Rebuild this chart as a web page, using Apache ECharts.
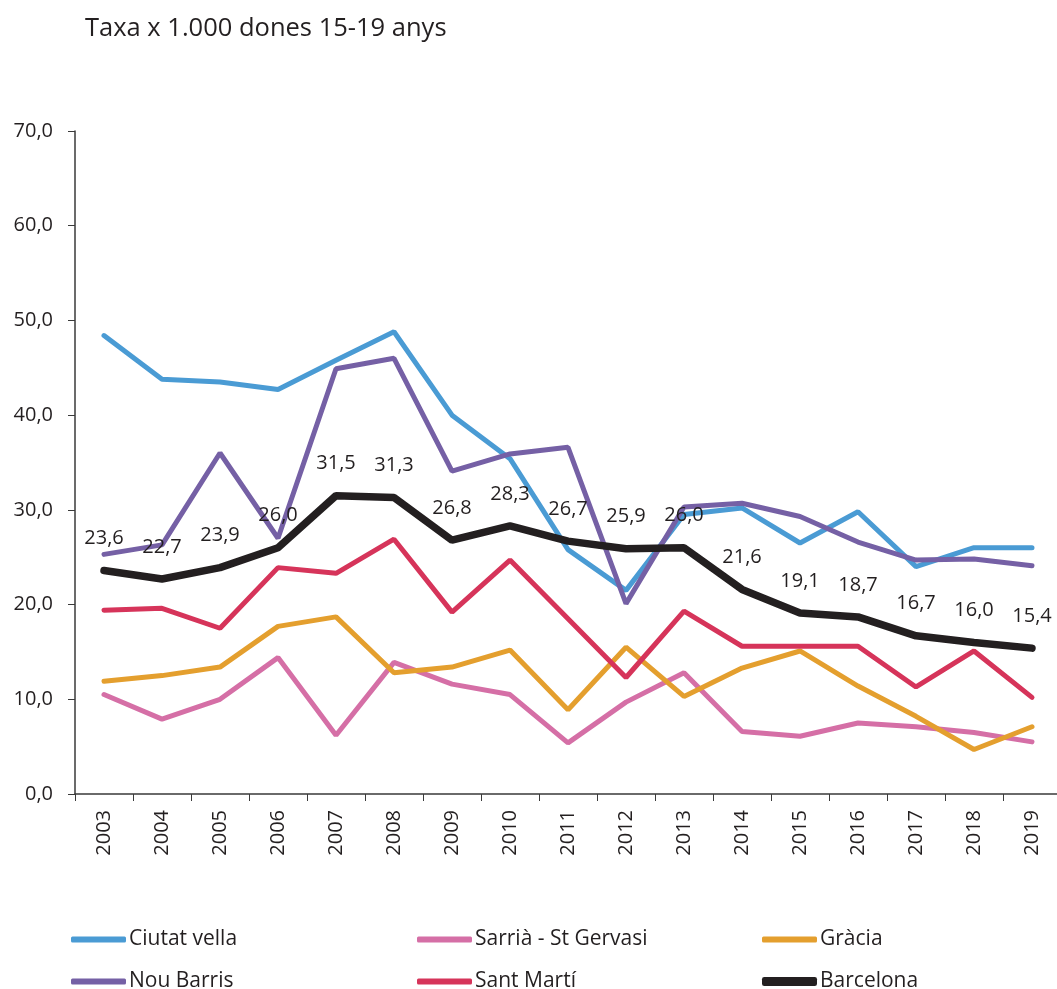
<!DOCTYPE html>
<html>
<head>
    <meta charset="utf-8">
    <title>Taxa x 1.000 dones 15-19 anys</title>
    <script src="https://cdn.jsdelivr.net/npm/echarts@6/dist/echarts.min.js"></script>
    <style>
        html, body { margin: 0; padding: 0; background: #fff; }
    </style>
</head>
<body>
    <div id="main" style="width: 1057px;height:989px;"></div>
    <script type="text/javascript">
        var years = ['2003', '2004', '2005', '2006', '2007', '2008', '2009', '2010', '2011',
            '2012', '2013', '2014', '2015', '2016', '2017', '2018', '2019'];
        var ciutatVella = [48.4, 43.8, 43.5, 42.7, 45.8, 48.8, 40.0, 35.4, 25.8, 21.5, 29.5, 30.2, 26.5, 29.8, 24.0, 26.0, 26.0];
        var sarria = [10.5, 7.9, 10.0, 14.4, 6.2, 13.9, 11.6, 10.5, 5.4, 9.7, 12.8, 6.6, 6.1, 7.5, 7.1, 6.5, 5.5];
        var gracia = [11.9, 12.5, 13.4, 17.7, 18.7, 12.8, 13.4, 15.2, 8.9, 15.5, 10.3, 13.3, 15.1, 11.4, 8.2, 4.7, 7.1];
        var nouBarris = [25.3, 26.3, 36.0, 27.0, 44.9, 46.0, 34.1, 35.9, 36.6, 20.1, 30.3, 30.7, 29.3, 26.6, 24.7, 24.8, 24.1];
        var santMarti = [19.4, 19.6, 17.5, 23.9, 23.3, 26.9, 19.2, 24.7, 18.5, 12.3, 19.3, 15.6, 15.6, 15.6, 11.3, 15.1, 10.2];
        var barcelona = [23.6, 22.7, 23.9, 26.0, 31.5, 31.3, 26.8, 28.3, 26.7, 25.9, 26.0, 21.6, 19.1, 18.7, 16.7, 16.0, 15.4];

        var txt = '#231f20';
        var font = 'Open Sans';
        var coma = function (v) {
            return Number(v).toFixed(1).replace('.', ',');
        };

        function linia(name, data, color, width) {
            return {
                name: name,
                type: 'line',
                data: data,
                showSymbol: false,
                symbol: 'none',
                lineStyle: { color: color, width: width, cap: 'round' },
                itemStyle: { color: color }
            };
        }

        function llegenda(name, left, top, h) {
            return {
                data: [name],
                left: left,
                top: top,
                padding: 0,
                icon: 'roundRect',
                itemWidth: 55,
                itemHeight: h,
                textStyle: { color: txt, fontSize: 21, fontFamily: font, padding: [0, 0, 0, -2] }
            };
        }

        var series = [
            linia('Ciutat vella', ciutatVella, '#4a9bd4', 5),
            linia('Sarrià - St Gervasi', sarria, '#d56fa6', 5),
            linia('Gràcia', gracia, '#e49f2e', 5),
            linia('Nou Barris', nouBarris, '#7560a5', 5),
            linia('Sant Martí', santMarti, '#d6345a', 5),
            linia('Barcelona', barcelona, '#231f20', 7.5)
        ];
        // les etiquetes de Barcelona necessiten símbol (invisible)
        series[5].showSymbol = true;
        series[5].showAllSymbol = true;
        series[5].symbol = 'circle';
        series[5].symbolSize = 0.1;
        series[5].label = {
            show: true,
            position: 'top',
            distance: 22,
            color: txt,
            fontSize: 20,
            fontFamily: font,
            formatter: function (p) { return coma(p.value); }
        };

        var myChart = echarts.init(document.getElementById('main'));
        myChart.setOption({
            animation: false,
            backgroundColor: '#fff',
            title: {
                text: 'Taxa x 1.000 dones 15-19 anys',
                left: 80,
                top: 11,
                textStyle: { color: txt, fontSize: 25.5, fontWeight: 'normal', fontFamily: font }
            },
            legend: [
                llegenda('Ciutat vella', 71, 929, 6),
                llegenda('Sarrià - St Gervasi', 417, 929, 6),
                llegenda('Gràcia', 762, 929, 6),
                llegenda('Nou Barris', 71, 971, 6),
                llegenda('Sant Martí', 417, 971, 6),
                llegenda('Barcelona', 762, 971, 9)
            ],
            grid: {
                left: 75,
                top: 131,
                width: 986,
                height: 663,
                containLabel: false,
                outerBoundsMode: 'none'
            },
            xAxis: {
                type: 'category',
                data: years,
                boundaryGap: true,
                axisLine: { lineStyle: { color: '#3a3a3a', width: 1.5 } },
                axisTick: { show: true, length: 7, lineStyle: { color: '#3a3a3a' } },
                axisLabel: {
                    rotate: 90,
                    margin: 16,
                    color: txt,
                    fontSize: 20,
                    fontFamily: font
                },
                splitLine: { show: false }
            },
            yAxis: {
                type: 'value',
                min: 0,
                max: 70,
                interval: 10,
                axisLine: { show: true, lineStyle: { color: '#3a3a3a', width: 1.5 } },
                axisTick: { show: true, length: 7, lineStyle: { color: '#3a3a3a' } },
                axisLabel: {
                    margin: 22,
                    color: txt,
                    fontSize: 20,
                    fontFamily: font,
                    formatter: coma
                },
                splitLine: { show: false }
            },
            series: series
        });
    </script>
</body>
</html>
